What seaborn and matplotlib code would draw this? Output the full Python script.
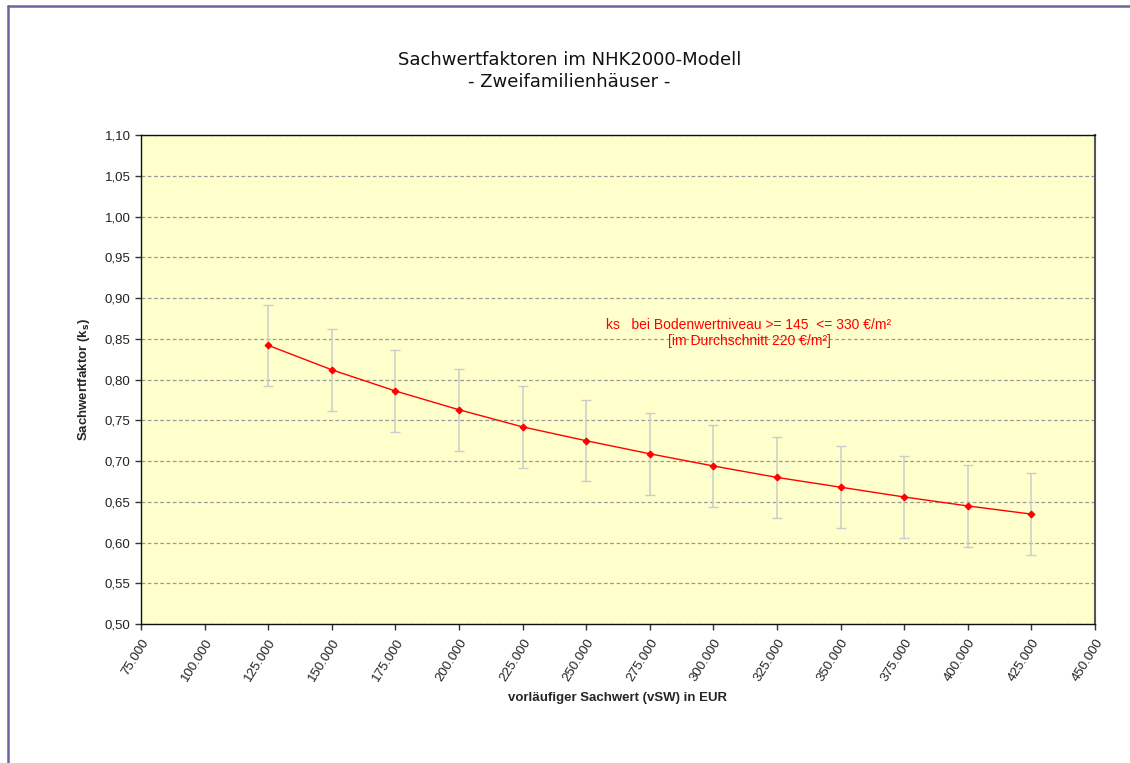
import matplotlib
matplotlib.use("Agg")
import matplotlib.pyplot as plt
from matplotlib.lines import Line2D
from matplotlib.ticker import FuncFormatter, MultipleLocator
import seaborn as sns
import pandas as pd

# =====================================================
# DATEN
# =====================================================

vsw = [125000, 150000, 175000, 200000, 225000, 250000, 275000,
       300000, 325000, 350000, 375000, 400000, 425000]
ks = [0.842, 0.812, 0.786, 0.763, 0.742, 0.725, 0.709,
      0.694, 0.680, 0.668, 0.656, 0.645, 0.635]
ks_err = [0.05] * len(vsw)

TITEL = "Sachwertfaktoren im NHK2000-Modell\n- Zweifamilienhäuser -"
HINWEIS = "ks   bei Bodenwertniveau >= 145  <= 330 €/m²\n[im Durchschnitt 220 €/m²]"

df = pd.DataFrame({"vSW": vsw, "ks": ks})

# =====================================================
# GRAFIK
# =====================================================

sns.set_theme(style="white")
plt.rcParams["font.family"] = ["Liberation Sans", "DejaVu Sans"]

fig = plt.figure(figsize=(11.3, 7.63), dpi=100)
ax = fig.add_axes([0.1248, 0.182, 0.8442, 0.641])
ax.set_facecolor("#FFFFCC")

# Fehlerbalken
ax.errorbar(vsw, ks, yerr=ks_err, fmt="none", ecolor="#CCCCCC",
            elinewidth=1.1, capsize=3.5, capthick=1.0, zorder=2)

# Linie mit Punkten
sns.lineplot(data=df, x="vSW", y="ks", ax=ax, color="red", linewidth=1.0,
             marker="D", markersize=3.5, markeredgecolor="red", zorder=3)

ax.set_xlim(75000, 450000)
ax.set_ylim(0.50, 1.10)
ax.xaxis.set_major_locator(MultipleLocator(25000))
ax.yaxis.set_major_locator(MultipleLocator(0.05))
ax.xaxis.set_major_formatter(FuncFormatter(lambda v, p: f"{int(v):,}".replace(",", ".")))
ax.yaxis.set_major_formatter(FuncFormatter(lambda v, p: f"{v:.2f}".replace(".", ",")))

ax.grid(axis="y", color="#999999", linestyle=(0, (3, 2)), linewidth=0.9)
ax.grid(axis="x", visible=False)
ax.set_axisbelow(True)

ax.tick_params(axis="both", direction="out", length=4, width=1, color="#333333",
               labelsize=9.5, labelcolor="#222222", bottom=True, left=True)
ax.tick_params(axis="x", pad=5)
plt.setp(ax.get_xticklabels(), rotation=58, ha="right", rotation_mode="anchor")

for side in ["left", "bottom", "top"]:
    ax.spines[side].set_color("#111111")
    ax.spines[side].set_linewidth(1.0)
ax.spines["right"].set_color("#555555")
ax.spines["right"].set_linewidth(1.5)

ax.set_xlabel("vorläufiger Sachwert (vSW) in EUR", fontsize=9.5, fontweight="bold", labelpad=6)
ax.set_ylabel(r"Sachwertfaktor (k$_\mathbf{s}$)", fontsize=9.5, fontweight="bold", labelpad=9)

ax.text(314000, 0.857, HINWEIS, color="red", fontsize=10, ha="center", va="center",
        linespacing=1.15)

fig.text(0.504, 0.907, TITEL, ha="center", va="center", fontsize=13,
         family="DejaVu Sans", linespacing=1.3, color="#111111")

# Rahmen links und oben
fig.add_artist(Line2D([0.0075, 0.0075], [0.0, 0.992], transform=fig.transFigure,
                      color="#6666A0", linewidth=1.8))
fig.add_artist(Line2D([0.0075, 1.0], [0.992, 0.992], transform=fig.transFigure,
                      color="#6666A0", linewidth=1.8))

fig.savefig("out.png", dpi=100)
